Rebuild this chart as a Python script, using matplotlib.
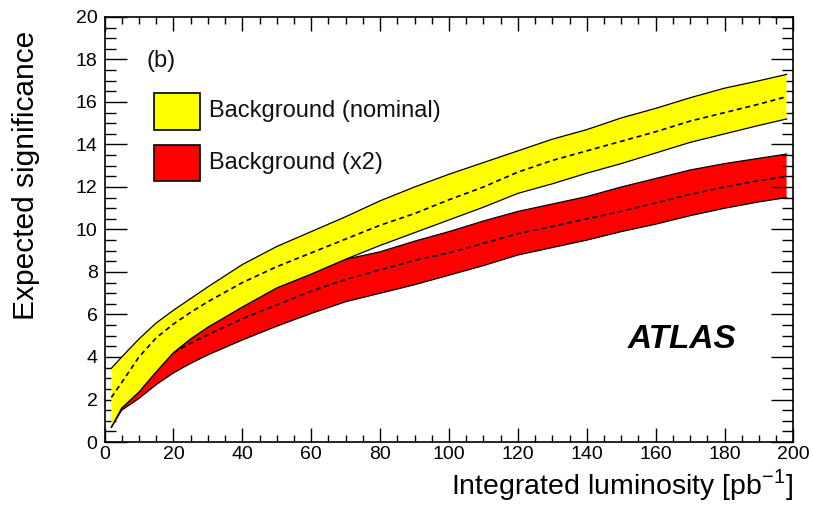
import matplotlib
matplotlib.use("Agg")
import matplotlib.pyplot as plt
from matplotlib.patches import Rectangle
from matplotlib.ticker import MultipleLocator

plt.rcParams['font.family'] = ['Liberation Sans', 'DejaVu Sans']
plt.rcParams['mathtext.fontset'] = 'custom'
plt.rcParams['mathtext.rm'] = 'Liberation Sans'

# ---- data ----
lumi = [2, 5, 10, 15, 20, 25, 30, 40, 50, 60, 70, 80, 90, 100, 110, 120,
        130, 140, 150, 160, 170, 180, 190, 198]

nom_upper = [3.47, 4.0, 4.85, 5.6, 6.2, 6.75, 7.3, 8.35, 9.2, 9.9, 10.6, 11.35,
             12.0, 12.6, 13.15, 13.7, 14.25, 14.7, 15.25, 15.7, 16.2, 16.65,
             17.0, 17.3]
nom_center = [2.1, 2.8, 4.0, 4.9, 5.55, 6.1, 6.6, 7.5, 8.25, 8.9, 9.55, 10.2,
              10.75, 11.4, 12.0, 12.7, 13.25, 13.7, 14.15, 14.6, 15.1, 15.5,
              15.9, 16.25]
nom_lower = [0.7, 1.6, 2.35, 3.3, 4.2, 4.85, 5.4, 6.35, 7.25, 7.9, 8.6, 9.25,
             9.85, 10.45, 11.05, 11.7, 12.15, 12.65, 13.1, 13.6, 14.1, 14.5,
             14.9, 15.2]

x2_upper = [0.7, 1.6, 2.35, 3.3, 4.2, 4.85, 5.4, 6.35, 7.25, 7.9, 8.6, 8.95,
            9.45, 9.9, 10.4, 10.85, 11.2, 11.55, 12.0, 12.4, 12.8, 13.1,
            13.35, 13.55]
x2_lower = [0.7, 1.5, 2.05, 2.7, 3.25, 3.7, 4.1, 4.8, 5.45, 6.05, 6.6, 7.0,
            7.4, 7.85, 8.3, 8.8, 9.15, 9.5, 9.9, 10.25, 10.65, 11.0, 11.3,
            11.5]
lumi_x2_center = [20, 25, 30, 40, 50, 60, 70, 80, 90, 100, 110, 120, 130,
                  140, 150, 160, 170, 180, 190, 198]
x2_center = [4.2, 4.65, 5.05, 5.8, 6.45, 7.1, 7.65, 8.1, 8.55, 8.9, 9.35, 9.8,
             10.15, 10.5, 10.85, 11.25, 11.65, 12.0, 12.3, 12.5]

labels = ["Background (nominal)", "Background (x2)"]
colors = ["#ffff00", "#ff0000"]

# ---- figure ----
fig = plt.figure(figsize=(8.14, 5.07), dpi=100)
ax = fig.add_axes([0.1284, 0.1282, 0.9748 - 0.1284, 0.9665 - 0.1282])

# x2 band
ax.fill_between(lumi, x2_lower, x2_upper, facecolor=colors[1], edgecolor='none', zorder=1)
ax.plot(lumi, x2_upper, color='black', lw=0.9, zorder=2)
ax.plot(lumi, x2_lower, color='black', lw=0.9, zorder=2)
ax.plot(lumi_x2_center, x2_center, color='black', lw=1.2, dashes=(3, 2.2), zorder=2)

# nominal band
ax.fill_between(lumi, nom_lower, nom_upper, facecolor=colors[0], edgecolor='none', zorder=3)
ax.plot(lumi, nom_upper, color='black', lw=0.9, zorder=4)
ax.plot(lumi, nom_lower, color='black', lw=0.9, zorder=4)
ax.plot(lumi, nom_center, color='black', lw=1.2, dashes=(3, 2.2), zorder=4)

ax.set_xlim(0, 200)
ax.set_ylim(0, 20)
ax.xaxis.set_major_locator(MultipleLocator(20))
ax.xaxis.set_minor_locator(MultipleLocator(5))
ax.yaxis.set_major_locator(MultipleLocator(2))
ax.yaxis.set_minor_locator(MultipleLocator(0.5))

ax.tick_params(axis='both', which='both', direction='in', top=True, right=True,
               width=1.0, labelsize=14, colors='black')
ax.tick_params(axis='x', which='major', length=10, pad=3)
ax.tick_params(axis='x', which='minor', length=5)
ax.tick_params(axis='y', which='major', length=16, pad=5)
ax.tick_params(axis='y', which='minor', length=8)
for s in ax.spines.values():
    s.set_linewidth(1.2)

ax.set_xlabel("Integrated luminosity [pb$^{\\mathregular{-1}}$]", fontsize=20.5, loc='right')
ax.xaxis.set_label_coords(1.0, -0.058)
ax.set_ylabel("Expected significance", fontsize=21.5, loc='top')
ax.yaxis.set_label_coords(-0.093, 0.967)

# legend (manual ROOT-style boxes)
box_y = [0.735, 0.613]
txt_y = [0.778, 0.656]
for lab, col, by, ty in zip(labels, colors, box_y, txt_y):
    ax.add_patch(Rectangle((0.0725, by), 0.066, 0.0863, transform=ax.transAxes,
                           facecolor=col, edgecolor='black', lw=1.2, zorder=6))
    ax.text(0.152, ty, lab, transform=ax.transAxes, fontsize=17,
            ha='left', va='center', color='#111111', zorder=6)

ax.text(0.061, 0.896, "(b)", transform=ax.transAxes, fontsize=17,
        ha='left', va='center', color='#111111')
ax.text(0.838, 0.24, "ATLAS", transform=ax.transAxes, fontsize=24,
        fontweight='bold', fontstyle='italic', ha='center', va='center')

fig.savefig("out.png", dpi=100)
